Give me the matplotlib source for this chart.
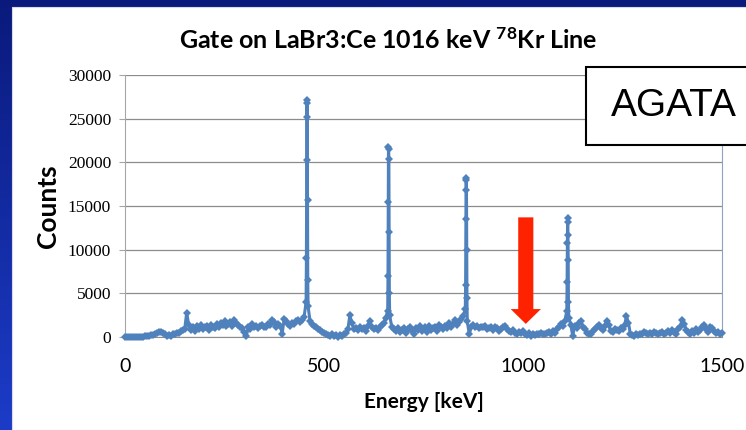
import numpy as np
import matplotlib
matplotlib.use("Agg")
from matplotlib import pyplot as plt
from matplotlib.patches import Rectangle, FancyArrow

plt.rcParams['mathtext.fontset'] = 'custom'
plt.rcParams['mathtext.rm'] = 'Lato'
plt.rcParams['mathtext.bf'] = 'Lato:bold'

# background spectrum, one value every 5 keV from 0 to 1500
baseline_energy = np.arange(0, 1501, 5)
baseline_counts = [
    0, 10, 0, 20, 0, 10, 30, 0, 20, 40,
    60, 120, 100, 200, 180, 300, 420, 550, 620, 450,
    300, 150, 250, 120, 300, 380, 500, 450, 650, 750,
    900, 2800, 1400, 800, 1100, 700, 1250, 950, 1350, 900,
    1100, 1300, 800, 1400, 1150, 1000, 1450, 1200, 1600, 1350,
    1850, 1300, 1500, 1700, 1250, 1900, 1600, 1350, 1100, 1000,
    600, 100, 1200, 900, 1500, 1100, 1300, 1000, 1250, 1400,
    1200, 1100, 1500, 1350, 1900, 1700, 1200, 1450, 1300, 400,
    2100, 1800, 1500, 1300, 1600, 1450, 1800, 2000, 1700, 1900,
    2300, 4000, 3500, 1800, 1500, 1300, 1100, 900, 800, 600,
    500, 400, 200, 150, 300, 100, 200, 50, 250, 150,
    300, 500, 900, 2500, 1600, 900, 1000, 800, 1100, 900,
    1000, 700, 1300, 1800, 1100, 900, 1000, 800, 1200, 1400,
    1600, 2200, 3000, 2500, 1200, 900, 700, 1000, 600, 800,
    1000, 500, 900, 1200, 700, 400, 1000, 800, 1300, 700,
    900, 1100, 600, 1300, 800, 1000, 1200, 700, 1400, 1100,
    900, 1300, 1000, 1600, 1200, 1500, 2000, 1400, 1700, 2100,
    2400, 3200, 1800, 300, 1200, 1400, 1100, 1300, 1000, 1200,
    1100, 1300, 900, 1000, 1200, 800, 1100, 1000, 700, 900,
    1100, 1300, 900, 700, 600, 800, 500, 400, 600, 500,
    700, 300, 200, 500, 100, 300, 200, 400, 300, 500,
    400, 300, 500, 600, 400, 700, 500, 900, 1200, 1500,
    1300, 1800, 3000, 2200, 1400, 100, 1300, 1000, 1600, 1800,
    1200, 900, 500, 400, 300, 700, 900, 1100, 1400, 1000,
    800, 1300, 1800, 1400, 700, 600, 900, 800, 700, 1000,
    900, 1300, 2400, 1600, 300, 200, 100, 300, 200, 400,
    300, 600, 500, 400, 500, 300, 600, 500, 400, 500,
    600, 400, 500, 700, 500, 800, 600, 400, 900, 1200,
    2000, 1500, 800, 600, 400, 700, 500, 900, 600, 800,
    1100, 1400, 900, 600, 1200, 1000, 700, 500, 600, 400,
    500,
]

# photopeaks (finer points)
peak_455_energy = [455.8, 456.4, 457.0, 457.5, 458.0, 458.6, 459.2]
peak_455_counts = [9000, 20300, 27100, 26800, 25200, 15700, 6500]
peak_664_energy = [660.8, 661.4, 662.0, 662.5, 663.0, 663.6, 664.2]
peak_664_counts = [7000, 15500, 21800, 21500, 20400, 12000, 5000]
peak_858_energy = [855.8, 856.4, 857.0, 857.5, 858.0, 858.6, 859.2]
peak_858_counts = [6000, 13500, 18200, 18000, 16800, 10000, 4500]
peak_1112_energy = [1110.8, 1111.4, 1112.0, 1112.5, 1113.0, 1113.6, 1114.2]
peak_1112_counts = [6300, 10800, 13600, 13200, 11700, 8800, 4000]

x_ticks = [0, 500, 1000, 1500]
y_ticks = [0, 5000, 10000, 15000, 20000, 25000, 30000]
gate_energy = 1007

energy = np.concatenate([baseline_energy, peak_455_energy, peak_664_energy,
                         peak_858_energy, peak_1112_energy])
counts = np.concatenate([baseline_counts, peak_455_counts, peak_664_counts,
                         peak_858_counts, peak_1112_counts])
order = np.argsort(energy)
energy = energy[order]
counts = counts[order]

fig = plt.figure(figsize=(7.46, 4.30), dpi=100)

# slide background
bg = fig.add_axes([0, 0, 1, 1])
grad = np.linspace(0, 1, 256).reshape(-1, 1)
bg.imshow(grad, aspect='auto', extent=[0, 1, 0, 1], origin='upper',
          cmap=matplotlib.colors.LinearSegmentedColormap.from_list('slide', ['#0a1a7c', '#1c3cc8']))
bg.add_patch(Rectangle((12 / 746, 0), 1, 1 - 7 / 430, facecolor='white', edgecolor='#d8d8e8', lw=0.8))
bg.set_xlim(0, 1)
bg.set_ylim(0, 1)
bg.axis('off')

ax = fig.add_axes([125 / 746, 1 - 337 / 430, (722 - 125) / 746, (337 - 75) / 430])
ax.set_facecolor('none')
ax.plot(energy, counts, color='#4F81BD', lw=2.2, marker='D', markersize=4,
        markeredgewidth=0, clip_on=False, zorder=3)

ax.set_xlim(0, 1500)
ax.set_ylim(0, 30000)
ax.set_xticks(x_ticks)
ax.set_yticks(y_ticks)
ax.yaxis.grid(True, color='#8c8c8c', lw=0.9)
ax.set_axisbelow(True)
ax.spines['top'].set_visible(False)
ax.spines['left'].set_color('#a6a6a6')
ax.spines['bottom'].set_color('#8c8c8c')
ax.spines['right'].set_color('#8ea3c0')
ax.tick_params(axis='y', length=4, color='#a6a6a6', pad=6, labelsize=12.5)
ax.tick_params(axis='x', length=0, pad=15, labelsize=14)
for t in ax.get_yticklabels():
    t.set_fontfamily('Liberation Serif')
for t in ax.get_xticklabels():
    t.set_fontfamily('Lato')

ax.set_xlabel('Energy [keV]', fontsize=15, fontweight='bold', family='Lato', labelpad=12)
ax.set_ylabel('Counts', fontsize=19, fontweight='bold', family='Lato', labelpad=6)

fig.text(0.52, 1 - 40 / 430, r'Gate on LaBr3:Ce 1016 keV $\mathbf{^{78}}$Kr Line',
         ha='center', va='center', fontsize=18, fontweight='bold', family='Lato')

# gate marker
ax.add_patch(FancyArrow(gate_energy, 13700, 0, -12200, width=38, head_width=76,
                        head_length=1700, length_includes_head=True,
                        color='#ff2200', lw=0, zorder=4))

# AGATA label box
fig.patches.append(Rectangle((586 / 746, 1 - 145 / 430), 0.5, 78 / 430,
                             transform=fig.transFigure, facecolor='white',
                             edgecolor='black', lw=1.5, zorder=5))
fig.text(611 / 746, 1 - 106 / 430, 'AGATA', ha='left', va='center',
         fontsize=28, family='Liberation Sans', zorder=6)

fig.savefig('out.png', dpi=100)
